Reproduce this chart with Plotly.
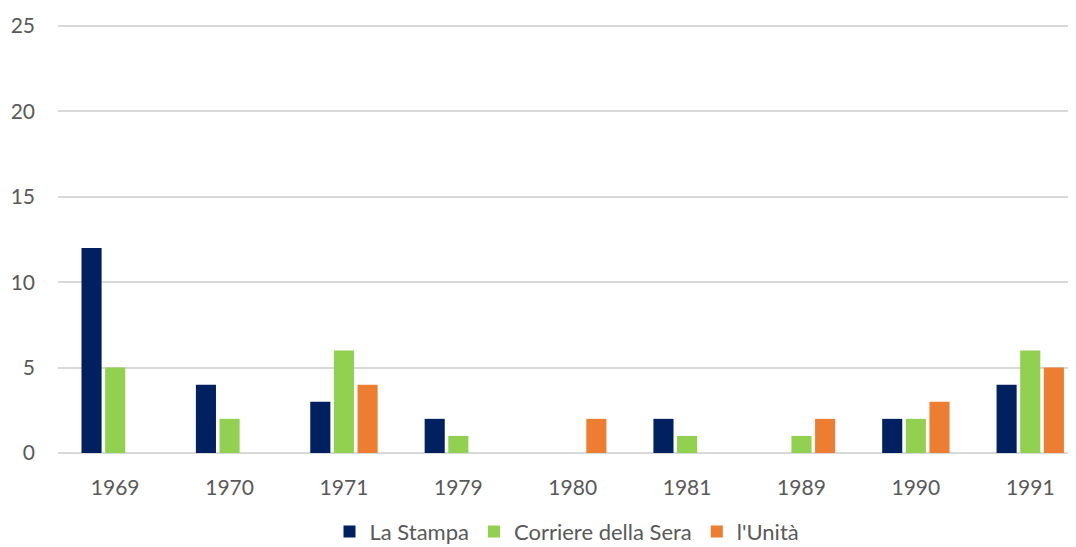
import plotly.graph_objects as go

# data
years = ["1969", "1970", "1971", "1979", "1980", "1981", "1989", "1990", "1991"]
la_stampa = [12, 4, 3, 2, 0, 2, 0, 2, 4]
corriere = [5, 2, 6, 1, 0, 1, 1, 2, 6]
unita = [0, 0, 4, 0, 2, 0, 2, 3, 5]

fig = go.Figure()

fig.add_trace(go.Bar(x=years, y=la_stampa, name="La Stampa",
                     marker=dict(color="#002060", line=dict(width=0))))
fig.add_trace(go.Bar(x=years, y=corriere, name="Corriere della Sera",
                     marker=dict(color="#92D050", line=dict(width=0))))
fig.add_trace(go.Bar(x=years, y=unita, name="l'Unità",
                     marker=dict(color="#ED7D31", line=dict(width=0))))

# page body has an 8px margin, so the figure is sized to fit the window
fig.update_layout(
    width=1068, height=539,
    margin=dict(l=50, r=0, t=15, b=94, autoexpand=False),
    paper_bgcolor="white", plot_bgcolor="white",
    font=dict(family="Lato, Open Sans, sans-serif", size=21, color="#595959"),
    barmode="group", bargap=0.38, bargroupgap=0.15,
    showlegend=True,
    legend=dict(orientation="h", x=0.5, xanchor="center", y=-0.183, yanchor="middle",
                font=dict(size=22, color="#595959"), itemwidth=30, traceorder="normal"),
)

fig.update_xaxes(range=[-0.5, 8.4], showgrid=False, showline=False,
                 ticks="", ticklabelstandoff=20)
fig.update_yaxes(range=[0, 25.18], tickvals=[0, 5, 10, 15, 20, 25],
                 showgrid=True, gridcolor="#d9d9d9", gridwidth=1.5,
                 zeroline=True, zerolinecolor="#d9d9d9", zerolinewidth=1.5,
                 ticklabelstandoff=22)

fig.write_html("out.html")
